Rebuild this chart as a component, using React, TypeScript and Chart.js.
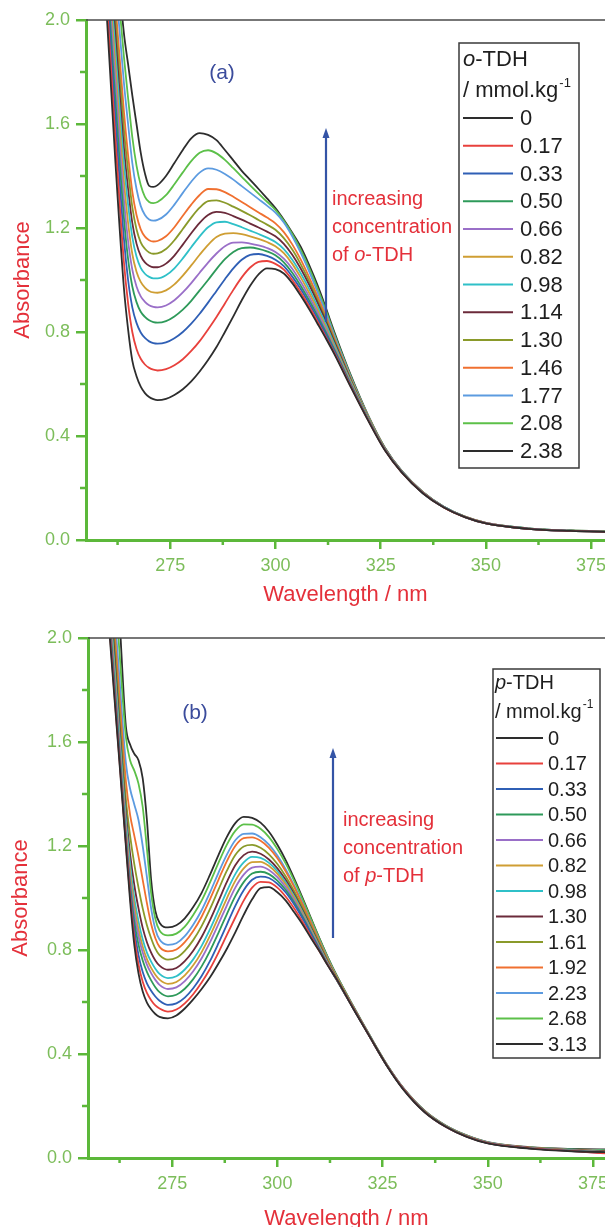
import React, { useEffect, useRef } from "react";
import { Chart, registerables } from "chart.js";

Chart.register(...registerables);

// ---------- data ----------
const wavelengths = [258, 260, 262, 264, 265, 266, 267, 268, 269, 270, 271, 272, 274, 276, 278, 280, 282, 284, 286, 288, 290, 292, 294, 296, 298, 300, 302, 304, 306, 308, 310, 312, 314, 318, 322, 326, 330, 335, 340, 345, 350, 360, 370, 380];

const xMajorTicks = [275, 300, 325, 350, 375];
const xMinorTicks = [262.5, 287.5, 312.5, 337.5, 362.5];
const yMajorTicks = [0, 0.4, 0.8, 1.2, 1.6, 2.0];
const yMinorTicks = [0.2, 0.6, 1.0, 1.4, 1.8];

const seriesColors = ["#2d2d2d", "#e8413c", "#2f5fb5", "#2e9a5a", "#9a6fc8", "#cf9e33", "#2fc0c8", "#6b2a3a", "#8a9a2a", "#f07030", "#5c9be0", "#5cc049", "#2d2d2d"];

// panel (a): o-TDH
const oConc = ["0", "0.17", "0.33", "0.50", "0.66", "0.82", "0.98", "1.14", "1.30", "1.46", "1.77", "2.08", "2.38"];
const oA0 = [2.6, 2.0, 1.45, 0.97, 0.81, 0.69, 0.63, 0.59, 0.565, 0.55, 0.542, 0.538, 0.543, 0.558, 0.58, 0.61, 0.648, 0.692, 0.742, 0.80, 0.86, 0.922, 0.978, 1.022, 1.045, 1.042, 1.025, 0.988, 0.94, 0.888, 0.832, 0.775, 0.715, 0.585, 0.46, 0.345, 0.26, 0.18, 0.125, 0.088, 0.064, 0.043, 0.035, 0.031];
const oA1 = [2.65, 2.06, 1.54, 1.07, 0.91, 0.80, 0.735, 0.697, 0.675, 0.662, 0.655, 0.652, 0.657, 0.672, 0.695, 0.727, 0.765, 0.81, 0.858, 0.91, 0.962, 1.01, 1.048, 1.07, 1.073, 1.062, 1.04, 1.0, 0.952, 0.898, 0.84, 0.78, 0.72, 0.588, 0.462, 0.346, 0.26, 0.181, 0.125, 0.088, 0.064, 0.043, 0.035, 0.031];
const oA2 = [2.7, 2.12, 1.62, 1.16, 1.00, 0.895, 0.835, 0.798, 0.777, 0.764, 0.757, 0.755, 0.76, 0.776, 0.80, 0.832, 0.87, 0.913, 0.958, 1.003, 1.045, 1.078, 1.097, 1.10, 1.093, 1.078, 1.053, 1.013, 0.965, 0.91, 0.852, 0.79, 0.726, 0.592, 0.464, 0.347, 0.261, 0.181, 0.126, 0.088, 0.064, 0.043, 0.035, 0.031];
const oA3 = [2.75, 2.17, 1.69, 1.24, 1.08, 0.975, 0.915, 0.878, 0.858, 0.845, 0.838, 0.836, 0.842, 0.86, 0.886, 0.92, 0.96, 1.0, 1.042, 1.08, 1.108, 1.123, 1.125, 1.12, 1.11, 1.095, 1.068, 1.028, 0.978, 0.922, 0.862, 0.798, 0.732, 0.595, 0.466, 0.348, 0.261, 0.181, 0.126, 0.088, 0.064, 0.043, 0.035, 0.031];
const oA4 = [2.8, 2.22, 1.76, 1.31, 1.15, 1.04, 0.975, 0.937, 0.916, 0.903, 0.897, 0.895, 0.902, 0.922, 0.952, 0.988, 1.028, 1.067, 1.102, 1.13, 1.144, 1.145, 1.14, 1.133, 1.123, 1.108, 1.082, 1.043, 0.993, 0.936, 0.874, 0.808, 0.738, 0.598, 0.467, 0.349, 0.262, 0.182, 0.126, 0.089, 0.065, 0.044, 0.035, 0.031];
const oA5 = [2.85, 2.27, 1.82, 1.38, 1.22, 1.10, 1.032, 0.993, 0.971, 0.958, 0.952, 0.951, 0.96, 0.983, 1.017, 1.056, 1.097, 1.135, 1.165, 1.178, 1.18, 1.176, 1.168, 1.158, 1.146, 1.13, 1.103, 1.062, 1.01, 0.951, 0.886, 0.818, 0.745, 0.602, 0.469, 0.35, 0.262, 0.182, 0.126, 0.089, 0.065, 0.044, 0.035, 0.032];
const oA6 = [2.9, 2.32, 1.88, 1.45, 1.29, 1.165, 1.09, 1.047, 1.024, 1.012, 1.006, 1.006, 1.018, 1.045, 1.083, 1.126, 1.168, 1.203, 1.222, 1.224, 1.215, 1.203, 1.19, 1.177, 1.163, 1.146, 1.119, 1.078, 1.026, 0.966, 0.899, 0.829, 0.753, 0.606, 0.471, 0.351, 0.263, 0.183, 0.127, 0.089, 0.065, 0.044, 0.036, 0.032];
const oA7 = [2.92, 2.37, 1.94, 1.51, 1.35, 1.22, 1.14, 1.093, 1.068, 1.055, 1.049, 1.049, 1.063, 1.094, 1.136, 1.18, 1.22, 1.25, 1.262, 1.258, 1.246, 1.232, 1.217, 1.202, 1.186, 1.168, 1.139, 1.097, 1.044, 0.982, 0.913, 0.84, 0.762, 0.61, 0.472, 0.352, 0.263, 0.183, 0.127, 0.089, 0.065, 0.044, 0.036, 0.032];
const oA8 = [2.95, 2.42, 2.0, 1.58, 1.42, 1.28, 1.195, 1.145, 1.12, 1.106, 1.101, 1.102, 1.119, 1.153, 1.196, 1.24, 1.278, 1.303, 1.306, 1.297, 1.282, 1.266, 1.249, 1.231, 1.213, 1.193, 1.161, 1.117, 1.061, 0.996, 0.924, 0.849, 0.769, 0.613, 0.473, 0.352, 0.264, 0.183, 0.127, 0.09, 0.065, 0.044, 0.036, 0.032];
const oA9 = [2.98, 2.47, 2.06, 1.65, 1.48, 1.34, 1.25, 1.195, 1.167, 1.153, 1.148, 1.15, 1.168, 1.203, 1.247, 1.29, 1.327, 1.35, 1.349, 1.338, 1.32, 1.30, 1.28, 1.26, 1.24, 1.218, 1.184, 1.137, 1.079, 1.011, 0.937, 0.859, 0.776, 0.617, 0.475, 0.353, 0.264, 0.184, 0.127, 0.09, 0.066, 0.044, 0.036, 0.032];
const oA10 = [3.0, 2.53, 2.15, 1.76, 1.60, 1.45, 1.35, 1.285, 1.25, 1.233, 1.228, 1.231, 1.252, 1.29, 1.335, 1.378, 1.413, 1.429, 1.424, 1.408, 1.386, 1.361, 1.336, 1.311, 1.286, 1.259, 1.221, 1.168, 1.105, 1.033, 0.954, 0.872, 0.785, 0.622, 0.477, 0.354, 0.265, 0.184, 0.128, 0.09, 0.066, 0.045, 0.036, 0.033];
const oA11 = [3.05, 2.58, 2.23, 1.86, 1.70, 1.55, 1.44, 1.365, 1.32, 1.30, 1.296, 1.30, 1.326, 1.368, 1.414, 1.457, 1.489, 1.499, 1.487, 1.462, 1.43, 1.397, 1.364, 1.332, 1.301, 1.27, 1.228, 1.177, 1.117, 1.047, 0.968, 0.883, 0.792, 0.626, 0.478, 0.354, 0.265, 0.185, 0.128, 0.09, 0.066, 0.045, 0.037, 0.033];
const oA12 = [3.1, 2.63, 2.3, 1.95, 1.83, 1.71, 1.60, 1.49, 1.41, 1.362, 1.358, 1.365, 1.40, 1.45, 1.50, 1.545, 1.565, 1.558, 1.538, 1.50, 1.46, 1.42, 1.385, 1.35, 1.314, 1.277, 1.232, 1.182, 1.128, 1.058, 0.98, 0.892, 0.80, 0.63, 0.48, 0.355, 0.266, 0.185, 0.128, 0.09, 0.066, 0.045, 0.037, 0.033];

// panel (b): p-TDH
const pConc = ["0", "0.17", "0.33", "0.50", "0.66", "0.82", "0.98", "1.30", "1.61", "1.92", "2.23", "2.68", "3.13"];
const pA0 = [2.5, 2.04, 1.62, 1.2, 0.99, 0.82, 0.71, 0.64, 0.598, 0.572, 0.554, 0.543, 0.537, 0.548, 0.575, 0.61, 0.65, 0.695, 0.748, 0.805, 0.868, 0.935, 0.995, 1.038, 1.042, 1.022, 0.99, 0.945, 0.898, 0.845, 0.795, 0.74, 0.69, 0.575, 0.465, 0.355, 0.262, 0.176, 0.12, 0.081, 0.056, 0.036, 0.026, 0.022];
const pA1 = [2.51, 2.06, 1.63, 1.21, 1.01, 0.85, 0.745, 0.678, 0.635, 0.607, 0.587, 0.575, 0.563, 0.571, 0.595, 0.63, 0.675, 0.728, 0.79, 0.858, 0.925, 0.99, 1.04, 1.062, 1.06, 1.04, 1.005, 0.96, 0.908, 0.851, 0.795, 0.741, 0.689, 0.577, 0.465, 0.356, 0.264, 0.177, 0.12, 0.082, 0.057, 0.037, 0.027, 0.015];
const pA2 = [2.53, 2.08, 1.65, 1.22, 1.03, 0.88, 0.78, 0.715, 0.672, 0.643, 0.621, 0.605, 0.589, 0.595, 0.617, 0.653, 0.70, 0.758, 0.826, 0.898, 0.97, 1.03, 1.07, 1.082, 1.077, 1.055, 1.021, 0.975, 0.921, 0.861, 0.80, 0.742, 0.688, 0.577, 0.465, 0.356, 0.264, 0.177, 0.12, 0.082, 0.057, 0.037, 0.027, 0.016];
const pA3 = [2.55, 2.1, 1.67, 1.23, 1.05, 0.91, 0.82, 0.76, 0.716, 0.683, 0.657, 0.638, 0.622, 0.628, 0.651, 0.688, 0.737, 0.797, 0.866, 0.938, 1.007, 1.061, 1.094, 1.101, 1.092, 1.067, 1.031, 0.983, 0.928, 0.866, 0.803, 0.743, 0.687, 0.577, 0.465, 0.356, 0.264, 0.178, 0.121, 0.083, 0.057, 0.037, 0.028, 0.018];
const pA4 = [2.56, 2.12, 1.69, 1.25, 1.07, 0.94, 0.853, 0.79, 0.744, 0.711, 0.685, 0.666, 0.65, 0.656, 0.68, 0.718, 0.768, 0.83, 0.90, 0.972, 1.04, 1.09, 1.117, 1.121, 1.108, 1.08, 1.041, 0.991, 0.934, 0.871, 0.807, 0.745, 0.688, 0.577, 0.465, 0.357, 0.265, 0.178, 0.121, 0.083, 0.058, 0.038, 0.029, 0.02];
const pA5 = [2.58, 2.15, 1.71, 1.27, 1.10, 0.97, 0.88, 0.813, 0.765, 0.731, 0.705, 0.686, 0.67, 0.677, 0.702, 0.741, 0.792, 0.855, 0.926, 0.999, 1.066, 1.114, 1.138, 1.139, 1.123, 1.093, 1.052, 1.0, 0.941, 0.876, 0.811, 0.747, 0.689, 0.578, 0.466, 0.357, 0.265, 0.179, 0.122, 0.084, 0.058, 0.038, 0.029, 0.021];
const pA6 = [2.6, 2.18, 1.74, 1.30, 1.13, 1.0, 0.91, 0.84, 0.79, 0.755, 0.728, 0.708, 0.692, 0.699, 0.725, 0.764, 0.816, 0.88, 0.952, 1.026, 1.092, 1.137, 1.158, 1.154, 1.135, 1.103, 1.06, 1.007, 0.946, 0.88, 0.814, 0.749, 0.69, 0.578, 0.466, 0.357, 0.265, 0.179, 0.122, 0.084, 0.058, 0.038, 0.029, 0.022];
const pA7 = [2.62, 2.22, 1.77, 1.33, 1.17, 1.05, 0.96, 0.885, 0.83, 0.79, 0.76, 0.74, 0.724, 0.731, 0.757, 0.797, 0.85, 0.915, 0.988, 1.062, 1.126, 1.165, 1.178, 1.17, 1.148, 1.114, 1.069, 1.014, 0.952, 0.885, 0.818, 0.752, 0.692, 0.579, 0.466, 0.357, 0.265, 0.179, 0.122, 0.084, 0.058, 0.039, 0.03, 0.024];
const pA8 = [2.65, 2.26, 1.82, 1.38, 1.24, 1.13, 1.04, 0.96, 0.895, 0.845, 0.805, 0.78, 0.763, 0.77, 0.797, 0.838, 0.892, 0.958, 1.032, 1.105, 1.165, 1.198, 1.204, 1.193, 1.168, 1.131, 1.083, 1.026, 0.962, 0.893, 0.825, 0.757, 0.695, 0.58, 0.467, 0.358, 0.266, 0.18, 0.123, 0.085, 0.059, 0.039, 0.03, 0.024];
const pA9 = [2.68, 2.3, 1.88, 1.45, 1.32, 1.24, 1.16, 1.07, 0.98, 0.9, 0.845, 0.812, 0.795, 0.802, 0.83, 0.873, 0.928, 0.996, 1.07, 1.142, 1.2, 1.23, 1.233, 1.22, 1.193, 1.153, 1.102, 1.042, 0.975, 0.903, 0.832, 0.762, 0.698, 0.581, 0.467, 0.358, 0.266, 0.18, 0.123, 0.085, 0.059, 0.04, 0.031, 0.025];
const pA10 = [2.7, 2.35, 1.95, 1.52, 1.42, 1.36, 1.30, 1.20, 1.08, 0.96, 0.88, 0.84, 0.82, 0.826, 0.853, 0.897, 0.953, 1.022, 1.097, 1.167, 1.222, 1.247, 1.248, 1.234, 1.205, 1.163, 1.11, 1.048, 0.98, 0.907, 0.835, 0.765, 0.70, 0.582, 0.468, 0.359, 0.267, 0.181, 0.124, 0.086, 0.06, 0.04, 0.032, 0.027];
const pA11 = [2.75, 2.4, 2.05, 1.62, 1.53, 1.49, 1.44, 1.35, 1.19, 1.02, 0.92, 0.875, 0.856, 0.863, 0.89, 0.935, 0.99, 1.06, 1.135, 1.205, 1.258, 1.283, 1.282, 1.266, 1.234, 1.188, 1.132, 1.066, 0.994, 0.918, 0.843, 0.771, 0.704, 0.584, 0.469, 0.36, 0.267, 0.181, 0.124, 0.086, 0.06, 0.041, 0.033, 0.03];
const pA12 = [2.8, 2.45, 2.2, 1.66, 1.59, 1.555, 1.53, 1.46, 1.30, 1.07, 0.95, 0.905, 0.887, 0.895, 0.922, 0.965, 1.02, 1.09, 1.165, 1.235, 1.288, 1.312, 1.308, 1.29, 1.255, 1.205, 1.145, 1.075, 1.0, 0.922, 0.845, 0.772, 0.705, 0.585, 0.47, 0.36, 0.268, 0.182, 0.125, 0.087, 0.061, 0.042, 0.035, 0.033];

const oSeries = [oA0, oA1, oA2, oA3, oA4, oA5, oA6, oA7, oA8, oA9, oA10, oA11, oA12];
const pSeries = [pA0, pA1, pA2, pA3, pA4, pA5, pA6, pA7, pA8, pA9, pA10, pA11, pA12];

// ---------- styling ----------
const FONT = '"Liberation Sans", Arial, Helvetica, sans-serif';
const GREEN = "#5cb83a";
const GREEN_TEXT = "#7cbd5a";
const RED = "#e4303a";
const NAVY = "#3b4c9c";
const ARROW = "#3454a6";

type Layout = {
  key: string;
  isomer: string;
  letter: string;
  top: number;
  height: number;
  yAxisWidth: number;
  xMax: number;
  yTitlePad: number;
  xTitlePad: number;
  letterPos: [number, number];
  arrow: { x: number; top: number; bottom: number };
  note: { x: number; ys: number[] };
  legend: {
    x: number; y: number; w: number; h: number; font: number;
    titleX: number; titleY1: number; titleY2: number;
    lineX1: number; lineX2: number; textX: number; rowY0: number; rowStep: number;
  };
};

const layoutA: Layout = {
  key: "a", isomer: "o", letter: "(a)", top: 0, height: 618, yAxisWidth: 86, xMax: 378.3,
  yTitlePad: 10, xTitlePad: 10,
  letterPos: [222, 73],
  arrow: { x: 326, top: 128, bottom: 322 },
  note: { x: 332, ys: [199, 227, 255] },
  legend: { x: 459, y: 43, w: 120, h: 425, font: 22, titleX: 463, titleY1: 60, titleY2: 91,
    lineX1: 463, lineX2: 513, textX: 520, rowY0: 118, rowStep: 27.75 },
};

const layoutB: Layout = {
  key: "b", isomer: "p", letter: "(b)", top: 618, height: 620, yAxisWidth: 88, xMax: 377.85,
  yTitlePad: 8, xTitlePad: 6,
  letterPos: [195, 95],
  arrow: { x: 333, top: 130, bottom: 320 },
  note: { x: 343, ys: [202, 230, 258] },
  legend: { x: 493, y: 51, w: 107, h: 389, font: 20, titleX: 495, titleY1: 65, titleY2: 94,
    lineX1: 496, lineX2: 543, textX: 548, rowY0: 120, rowStep: 25.5 },
};

function makeDecor(L: Layout) {
  return {
    id: "decor" + L.key,
    afterDraw(chart: any) {
      const { ctx, chartArea: ca, scales } = chart;
      const xs = scales.x;
      const ys = scales.y;
      ctx.save();
      // top frame line
      ctx.strokeStyle = "#4a4a4a";
      ctx.lineWidth = 1.5;
      ctx.beginPath();
      ctx.moveTo(ca.left, ca.top);
      ctx.lineTo(ca.right, ca.top);
      ctx.stroke();
      // minor ticks
      ctx.strokeStyle = GREEN;
      ctx.lineWidth = 2.5;
      ctx.beginPath();
      xMinorTicks.forEach((v) => {
        const p = xs.getPixelForValue(v);
        if (p >= ca.left && p <= ca.right) {
          ctx.moveTo(p, ca.bottom);
          ctx.lineTo(p, ca.bottom + 5);
        }
      });
      yMinorTicks.forEach((v) => {
        const p = ys.getPixelForValue(v);
        ctx.moveTo(ca.left, p);
        ctx.lineTo(ca.left - 6, p);
      });
      ctx.stroke();

      // panel letter
      ctx.fillStyle = NAVY;
      ctx.font = `21px ${FONT}`;
      ctx.textAlign = "center";
      ctx.textBaseline = "middle";
      ctx.fillText(L.letter, L.letterPos[0], L.letterPos[1]);

      // arrow
      ctx.strokeStyle = ARROW;
      ctx.fillStyle = ARROW;
      ctx.lineWidth = 2.2;
      ctx.beginPath();
      ctx.moveTo(L.arrow.x, L.arrow.bottom);
      ctx.lineTo(L.arrow.x, L.arrow.top + 8);
      ctx.stroke();
      ctx.beginPath();
      ctx.moveTo(L.arrow.x, L.arrow.top);
      ctx.lineTo(L.arrow.x - 3.5, L.arrow.top + 10);
      ctx.lineTo(L.arrow.x + 3.5, L.arrow.top + 10);
      ctx.closePath();
      ctx.fill();

      // annotation text
      ctx.fillStyle = RED;
      ctx.textAlign = "left";
      ctx.font = `20px ${FONT}`;
      ctx.fillText("increasing", L.note.x, L.note.ys[0]);
      ctx.fillText("concentration", L.note.x, L.note.ys[1]);
      ctx.fillText("of ", L.note.x, L.note.ys[2]);
      let w = ctx.measureText("of ").width;
      ctx.font = `italic 20px ${FONT}`;
      ctx.fillText(L.isomer, L.note.x + w, L.note.ys[2]);
      w += ctx.measureText(L.isomer).width;
      ctx.font = `20px ${FONT}`;
      ctx.fillText("-TDH", L.note.x + w, L.note.ys[2]);

      // legend
      const G = L.legend;
      ctx.fillStyle = "#ffffff";
      ctx.fillRect(G.x, G.y, G.w, G.h);
      ctx.strokeStyle = "#3a3a3a";
      ctx.lineWidth = 1.5;
      ctx.strokeRect(G.x, G.y, G.w, G.h);
      ctx.fillStyle = "#1e1e1e";
      ctx.font = `italic ${G.font}px ${FONT}`;
      ctx.fillText(L.isomer, G.titleX, G.titleY1);
      w = ctx.measureText(L.isomer).width;
      ctx.font = `${G.font}px ${FONT}`;
      ctx.fillText("-TDH", G.titleX + w, G.titleY1);
      ctx.fillText("/ mmol.kg", G.titleX, G.titleY2);
      w = ctx.measureText("/ mmol.kg").width;
      ctx.font = `${Math.round(G.font * 0.6)}px ${FONT}`;
      ctx.fillText("-1", G.titleX + w + 1, G.titleY2 - G.font * 0.36);
      ctx.font = `${G.font}px ${FONT}`;
      chart.data.datasets.forEach((ds: any, i: number) => {
        const y = G.rowY0 + i * G.rowStep;
        ctx.strokeStyle = ds.borderColor;
        ctx.lineWidth = 2;
        ctx.beginPath();
        ctx.moveTo(G.lineX1, y);
        ctx.lineTo(G.lineX2, y);
        ctx.stroke();
        ctx.fillStyle = "#1e1e1e";
        ctx.fillText(ds.label, G.textX, y + 1);
      });
      ctx.restore();
    },
  };
}

function buildConfig(L: Layout, labels: string[], series: number[][]): any {
  const datasets = series.map((vals, i) => ({
    label: labels[i],
    data: wavelengths.map((w, j) => ({ x: w, y: vals[j] })),
    borderColor: seriesColors[i],
    backgroundColor: seriesColors[i],
    borderWidth: 1.8,
    pointRadius: 0,
    fill: false,
    cubicInterpolationMode: "monotone",
  }));
  return {
    type: "line",
    data: { datasets },
    plugins: [makeDecor(L)],
    options: {
      responsive: false,
      devicePixelRatio: 1,
      animation: false,
      events: [],
      layout: { padding: { top: 20, left: 0, right: 0, bottom: 0 } },
      plugins: { legend: { display: false }, tooltip: { enabled: false } },
      scales: {
        x: {
          type: "linear",
          min: 255,
          max: L.xMax,
          afterBuildTicks: (s: any) => {
            s.ticks = xMajorTicks.map((v) => ({ value: v }));
          },
          afterFit: (s: any) => {
            s.height = L.height - 540;
            s.paddingLeft = 0;
            s.paddingRight = 0;
          },
          ticks: {
            color: GREEN_TEXT,
            font: { family: FONT, size: 18 },
            padding: 6,
            maxRotation: 0,
            autoSkip: false,
            callback: (v: any) => String(v),
          },
          grid: {
            display: true,
            drawOnChartArea: false,
            drawTicks: true,
            tickLength: 9,
            color: GREEN,
            lineWidth: 2.5,
          },
          border: { display: true, color: GREEN, width: 3 },
          title: {
            display: true,
            text: "Wavelength / nm",
            color: RED,
            font: { family: FONT, size: 22 },
            padding: { top: 0, bottom: L.xTitlePad },
          },
        },
        y: {
          type: "linear",
          min: 0,
          max: 2,
          afterBuildTicks: (s: any) => {
            s.ticks = yMajorTicks.map((v) => ({ value: v }));
          },
          afterFit: (s: any) => {
            s.width = L.yAxisWidth;
          },
          ticks: {
            color: GREEN_TEXT,
            font: { family: FONT, size: 18 },
            padding: 6,
            callback: (v: any) => Number(v).toFixed(1),
          },
          grid: {
            display: true,
            drawOnChartArea: false,
            drawTicks: true,
            tickLength: 10,
            color: GREEN,
            lineWidth: 2.5,
          },
          border: { display: true, color: GREEN, width: 3 },
          title: {
            display: true,
            text: "Absorbance",
            color: RED,
            font: { family: FONT, size: 22 },
            padding: { top: L.yTitlePad, bottom: 0 },
          },
        },
      },
    },
  };
}

function Panel({ L, labels, series }: { L: Layout; labels: string[]; series: number[][] }) {
  const ref = useRef<HTMLCanvasElement | null>(null);
  useEffect(() => {
    if (!ref.current) return;
    const chart = new Chart(ref.current, buildConfig(L, labels, series));
    return () => chart.destroy();
  }, []);
  return (
    <canvas
      ref={ref}
      width={605}
      height={L.height}
      style={{ position: "absolute", left: 0, top: L.top, width: 605, height: L.height, display: "block" }}
    />
  );
}

export default function App() {
  return (
    <div
      style={{
        position: "absolute",
        left: 0,
        top: 0,
        width: 605,
        height: 1227,
        overflow: "hidden",
        background: "#ffffff",
      }}
    >
      <Panel L={layoutA} labels={oConc} series={oSeries} />
      <Panel L={layoutB} labels={pConc} series={pSeries} />
    </div>
  );
}
